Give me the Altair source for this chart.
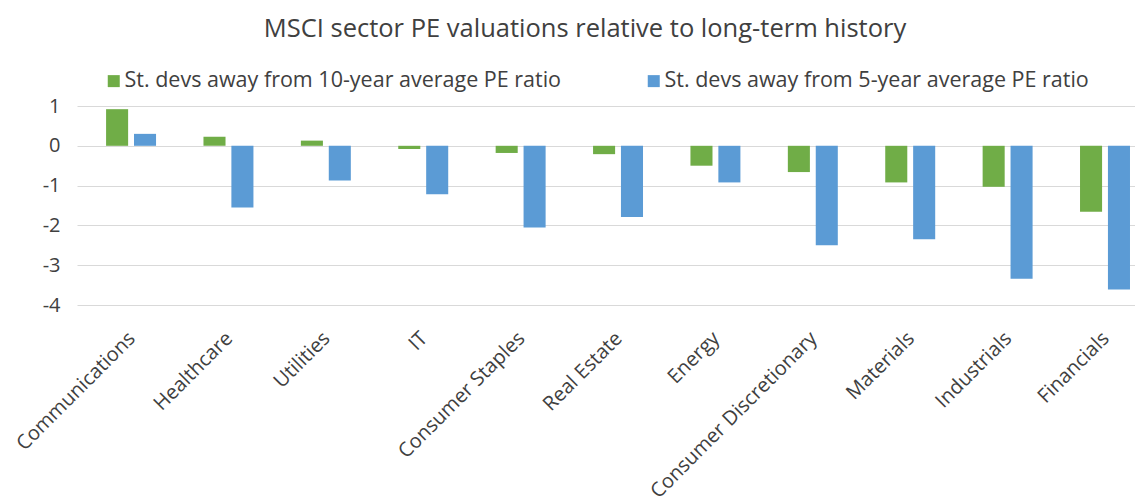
import altair as alt
import pandas as pd

sectors = ["Communications", "Healthcare", "Utilities", "IT", "Consumer Staples",
           "Real Estate", "Energy", "Consumer Discretionary", "Materials",
           "Industrials", "Financials"]
ten_year = [0.92, 0.23, 0.13, -0.08, -0.18, -0.21, -0.50, -0.66, -0.92, -1.03, -1.66]
five_year = [0.30, -1.55, -0.87, -1.22, -2.05, -1.79, -0.92, -2.50, -2.35, -3.34, -3.61]
series_names = ["St. devs away from 10-year average PE ratio",
                "St. devs away from 5-year average PE ratio"]
series_colors = ["#70AD47", "#5B9BD5"]
y_ticks = [-4, -3, -2, -1, 0, 1]

rows = []
for s, a, b in zip(sectors, ten_year, five_year):
    rows.append({"sector": s, "series": series_names[0], "value": a})
    rows.append({"sector": s, "series": series_names[1], "value": b})
df = pd.DataFrame(rows)

FONT = "Open Sans"

chart = alt.Chart(df).mark_bar().encode(
    x=alt.X("sector:N", sort=sectors,
            scale=alt.Scale(paddingInner=0.487, paddingOuter=0.175, align=0.853),
            axis=alt.Axis(title=None, labelAngle=-45, labelAlign="right",
                          labelBaseline="middle", labelPadding=30, labelOffset=1,
                          ticks=False, domain=False, grid=False,
                          labelFontSize=20, labelFont=FONT, labelColor="#404040",
                          labelLimit=400)),
    xOffset=alt.XOffset("series:N", sort=series_names,
                        scale=alt.Scale(paddingInner=0.21, paddingOuter=0)),
    y=alt.Y("value:Q", scale=alt.Scale(domain=[-4, 1], nice=False),
            axis=alt.Axis(title=None, values=y_ticks, labelExpr="datum.value + ''",
                          ticks=False, domain=False, gridColor="#d9d9d9", gridWidth=1,
                          labelPadding=17, labelFontSize=20, labelFont=FONT,
                          labelColor="#404040")),
    color=alt.Color("series:N", sort=series_names,
                    scale=alt.Scale(domain=series_names, range=series_colors),
                    legend=alt.Legend(title=None, orient="none", legendX=26, legendY=-36,
                                      direction="horizontal", columns=2,
                                      columnPadding=81, symbolType="square",
                                      symbolSize=144, symbolStrokeWidth=0,
                                      labelFontSize=21.5, labelFont=FONT,
                                      labelColor="#404040", labelOffset=0,
                                      labelLimit=600)),
).properties(
    width=1058,
    height=199,
    title=alt.TitleParams("MSCI sector PE valuations relative to long-term history",
                          fontSize=25.5, font=FONT, fontWeight="normal", color="#404040",
                          anchor="middle", dx=-21, offset=28),
    autosize=alt.AutoSizeParams(type="none"),
    padding={"left": 69, "top": 98, "right": 0, "bottom": 197},
).configure_view(stroke=None)

chart.save("out.html", embed_options={"renderer": "svg", "actions": False})
